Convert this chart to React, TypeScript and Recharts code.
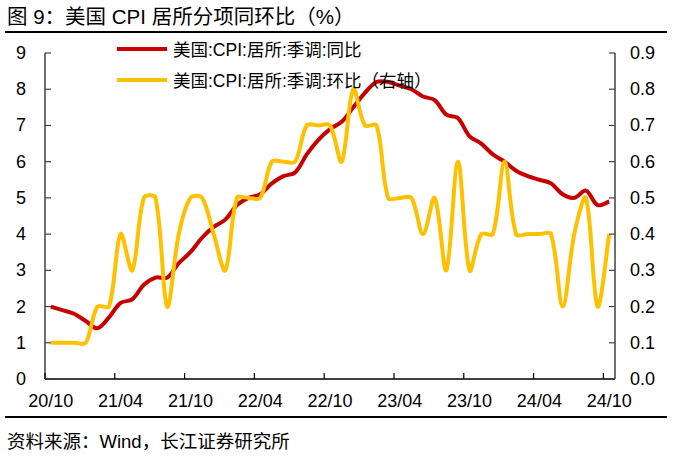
import React from "react";
import { LineChart, Line, XAxis, YAxis, Legend } from "recharts";

// Monthly categories, 2020/10 – 2024/10
const months = [
  "20/10", "20/11", "20/12",
  "21/01", "21/02", "21/03", "21/04", "21/05", "21/06", "21/07", "21/08", "21/09", "21/10", "21/11", "21/12",
  "22/01", "22/02", "22/03", "22/04", "22/05", "22/06", "22/07", "22/08", "22/09", "22/10", "22/11", "22/12",
  "23/01", "23/02", "23/03", "23/04", "23/05", "23/06", "23/07", "23/08", "23/09", "23/10", "23/11", "23/12",
  "24/01", "24/02", "24/03", "24/04", "24/05", "24/06", "24/07", "24/08", "24/09", "24/10",
];

// 美国:CPI:居所:季调:同比 (left axis, %)
const yoy = [
  2.0, 1.9, 1.8, 1.6, 1.4, 1.7, 2.1, 2.2, 2.6, 2.8, 2.8, 3.2, 3.5, 3.9, 4.2,
  4.4, 4.8, 5.0, 5.1, 5.4, 5.6, 5.7, 6.2, 6.6, 6.9, 7.1, 7.5,
  7.9, 8.2, 8.2, 8.1, 8.0, 7.8, 7.7, 7.3, 7.2, 6.7, 6.5, 6.2,
  6.0, 5.75, 5.6, 5.5, 5.4, 5.1, 5.0, 5.2, 4.8, 4.9,
];

// 美国:CPI:居所:季调:环比 (right axis, %)
const mom = [
  0.1, 0.1, 0.1, 0.1, 0.2, 0.2, 0.4, 0.3, 0.5, 0.5, 0.2, 0.4, 0.5, 0.5, 0.4,
  0.3, 0.5, 0.5, 0.5, 0.6, 0.6, 0.6, 0.7, 0.7, 0.7, 0.6, 0.8,
  0.7, 0.7, 0.5, 0.5, 0.5, 0.4, 0.5, 0.3, 0.6, 0.3, 0.4, 0.4,
  0.6, 0.4, 0.4, 0.4, 0.4, 0.2, 0.4, 0.5, 0.2, 0.4,
];

const seriesNames = ["美国:CPI:居所:季调:同比", "美国:CPI:居所:季调:环比（右轴）"];
const leftTicks = [0, 1, 2, 3, 4, 5, 6, 7, 8, 9];
const rightTicks = [0, 0.1, 0.2, 0.3, 0.4, 0.5, 0.6, 0.7, 0.8, 0.9];
const labelIdx = [0, 6, 12, 18, 24, 30, 36, 42, 48];

const data = months.map((m, i) => ({ idx: i, month: m, yoy: yoy[i], mom: mom[i] }));

const W = 679;
const H = 467;
const PLOT_LEFT = 45;
const PLOT_RIGHT = 615;
const PLOT_TOP = 53;
const PLOT_BOTTOM = 379;
const BAND = (PLOT_RIGHT - PLOT_LEFT) / months.length;

const FONT = "'Liberation Sans', Arial, 'Noto Sans CJK SC', sans-serif";
const RED = "#C80000";
const GOLD = "#FFC000";
const AXIS = "#404040";

// Excel-like smoothed line: Bezier through every point, tangents scaled by chord length
function smooth(context: any) {
  let pts: number[][] = [];
  const dist = (a: number[], b: number[]) => Math.hypot(b[0] - a[0], b[1] - a[1]) || 1e-6;
  return {
    areaStart() {},
    areaEnd() {},
    lineStart() {
      pts = [];
    },
    point(x: number, y: number) {
      pts.push([+x, +y]);
    },
    lineEnd() {
      if (!pts.length) return;
      context.moveTo(pts[0][0], pts[0][1]);
      for (let i = 0; i < pts.length - 1; i++) {
        const p0 = pts[Math.max(0, i - 1)];
        const p1 = pts[i];
        const p2 = pts[i + 1];
        const p3 = pts[Math.min(pts.length - 1, i + 2)];
        const d01 = dist(p0, p1);
        const d12 = dist(p1, p2);
        const d23 = dist(p2, p3);
        const f1 = i === 0 ? 1 / 6 : d12 / (d01 + d12) / 3;
        const f2 = i + 2 > pts.length - 1 ? 1 / 6 : d12 / (d12 + d23) / 3;
        context.bezierCurveTo(
          p1[0] + (p2[0] - p0[0]) * f1,
          p1[1] + (p2[1] - p0[1]) * f1,
          p2[0] - (p3[0] - p1[0]) * f2,
          p2[1] - (p3[1] - p1[1]) * f2,
          p2[0],
          p2[1]
        );
      }
    },
  };
}

const XTick = ({ x, payload }: any) => {
  const tx = x - BAND / 2;
  return (
    <g>
      <line x1={tx} x2={tx} y1={PLOT_BOTTOM} y2={PLOT_BOTTOM - 6} stroke="#000" strokeWidth={1.2} />
      <text x={x} y={401} textAnchor="middle" dominantBaseline="central" fontSize={18} fontFamily={FONT} fill="#000">
        {months[payload.value]}
      </text>
    </g>
  );
};

const LeftTick = ({ y, payload }: any) => (
  <g>
    <line x1={PLOT_LEFT} x2={PLOT_LEFT + 6} y1={y} y2={y} stroke={AXIS} strokeWidth={1.2} />
    <text x={26} y={y} textAnchor="end" dominantBaseline="central" fontSize={18} fontFamily={FONT} fill="#000">
      {payload.value}
    </text>
  </g>
);

const RightTick = ({ y, payload }: any) => (
  <g>
    <line x1={PLOT_RIGHT} x2={PLOT_RIGHT - 6} y1={y} y2={y} stroke={AXIS} strokeWidth={1.2} />
    <text x={630} y={y} textAnchor="start" dominantBaseline="central" fontSize={18} fontFamily={FONT} fill="#000">
      {Number(payload.value).toFixed(1)}
    </text>
  </g>
);

const renderLegend = (props: any) => (
  <div style={{ fontFamily: FONT, fontSize: 17.5, color: "#000" }}>
    {(props.payload || []).map((p: any) => (
      <div key={p.value} style={{ display: "flex", alignItems: "center", height: 31, whiteSpace: "nowrap" }}>
        <span style={{ display: "inline-block", width: 50, height: 4, background: p.color, marginRight: 6 }} />
        {p.value}
      </div>
    ))}
  </div>
);

export default function App() {
  return (
    <div style={{ position: "absolute", left: 0, top: 0, width: W, height: H, background: "#fff", overflow: "hidden" }}>
      <LineChart
        width={W}
        height={H}
        data={data}
        margin={{ top: PLOT_TOP, right: 0, bottom: H - PLOT_BOTTOM - 50, left: 0 }}
      >
        <XAxis
          dataKey="idx"
          type="number"
          domain={[-0.5, months.length - 0.5]}
          ticks={labelIdx}
          interval={0}
          height={50}
          tickLine={false}
          axisLine={{ stroke: "#000", strokeWidth: 1.5 }}
          tick={<XTick />}
        />
        <YAxis
          yAxisId="l"
          domain={[0, 9]}
          ticks={leftTicks}
          interval={0}
          width={PLOT_LEFT}
          tickLine={false}
          axisLine={{ stroke: AXIS, strokeWidth: 1.5 }}
          tick={<LeftTick />}
        />
        <YAxis
          yAxisId="r"
          orientation="right"
          domain={[0, 0.9]}
          ticks={rightTicks}
          interval={0}
          width={W - PLOT_RIGHT}
          tickLine={false}
          axisLine={{ stroke: AXIS, strokeWidth: 1.5 }}
          tick={<RightTick />}
        />
        <Legend
          layout="vertical"
          align="center"
          verticalAlign="middle"
          content={renderLegend}
          wrapperStyle={{ top: 33, left: 117, width: "auto", height: "auto" }}
        />
        <Line
          yAxisId="l"
          dataKey="yoy"
          name={seriesNames[0]}
          stroke={RED}
          strokeWidth={4}
          dot={false}
          type={smooth as any}
          isAnimationActive={false}
        />
        <Line
          yAxisId="r"
          dataKey="mom"
          name={seriesNames[1]}
          stroke={GOLD}
          strokeWidth={4}
          dot={false}
          type={smooth as any}
          isAnimationActive={false}
        />
      </LineChart>

      <div
        style={{
          position: "absolute",
          left: 7,
          top: 5,
          lineHeight: "24px",
          fontSize: 20.5,
          fontFamily: FONT,
          color: "#000",
          whiteSpace: "nowrap",
        }}
      >
        图 9：美国 CPI 居所分项同环比（%）
      </div>
      <div style={{ position: "absolute", left: 5, top: 31, width: 662, height: 2, background: "#000" }} />
      <div style={{ position: "absolute", left: 5, top: 416, width: 662, height: 2, background: "#000" }} />
      <div
        style={{
          position: "absolute",
          left: 7,
          top: 430,
          lineHeight: "24px",
          fontSize: 18.5,
          fontFamily: FONT,
          color: "#000",
          whiteSpace: "nowrap",
        }}
      >
        资料来源：Wind，长江证券研究所
      </div>
    </div>
  );
}
